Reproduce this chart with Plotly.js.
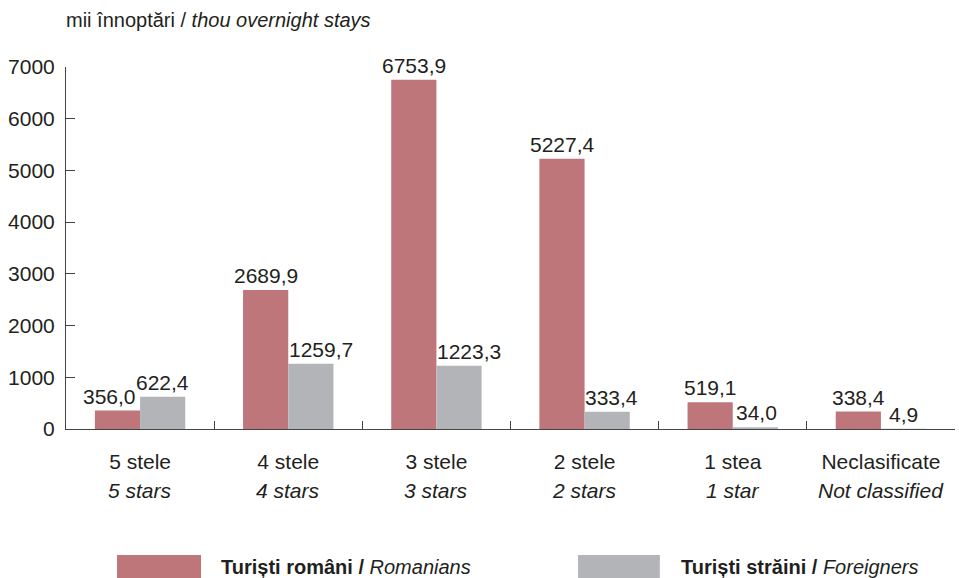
<!DOCTYPE html>
<html>
<head>
<meta charset="utf-8">
<script src="https://cdn.plot.ly/plotly-3.0.1.min.js"></script>
<style>html,body{margin:0;padding:0;background:#fff;}#chart{width:959px;height:578px;}</style>
</head>
<body>
<div id="chart"></div>
<script>
const categoriesRo = ["5 stele", "4 stele", "3 stele", "2 stele", "1 stea", "Neclasificate"];
const categoriesEn = ["5 stars", "4 stars", "3 stars", "2 stars", "1 star", "Not classified"];
const romanians = [356.0, 2689.9, 6753.9, 5227.4, 519.1, 338.4];
const foreigners = [622.4, 1259.7, 1223.3, 333.4, 34.0, 4.9];
const seriesNamesRo = ["Turiști români", "Turiști străini"];
const seriesNamesEn = ["Romanians", "Foreigners"];
const yTicks = [0, 1000, 2000, 3000, 4000, 5000, 6000, 7000];
const titleRo = "mii înnoptări";
const titleEn = "thou overnight stays";

const FONT = "Liberation Sans, Arial, Helvetica, sans-serif";
const TXT = "#231f20";
const colors = ["#be767b", "#b3b4b8"];
// small horizontal pixel nudges of the value labels (styling only)
const labelNudge = [[-8, 0, 0, 0, 0, 0], [0, 10, 10, 4, 1, 0]];
const halfBar = 22.5;

const fmt = v => v.toFixed(1).replace(".", ",");

const series = [romanians, foreigners];
const traces = series.map((vals, k) => ({
  type: "bar",
  x: categoriesRo,
  y: vals,
  name: seriesNamesRo[k],
  marker: {color: colors[k], line: {width: 0}},
  hoverinfo: "skip",
  showlegend: false
}));

const shapes = [];
const annotations = [];
// value labels above bars
series.forEach((vals, k) => {
  vals.forEach((v, i) => {
    annotations.push({xref: "x", yref: "y", x: categoriesRo[i], y: v,
      xshift: (k === 0 ? -halfBar : halfBar) + labelNudge[k][i], yshift: 1,
      xanchor: "center", yanchor: "bottom", showarrow: false, text: fmt(v),
      font: {family: FONT, size: 21, color: TXT}});
  });
});
// English category labels (second line under each category)
categoriesRo.forEach((c, i) => {
  annotations.push({xref: "x", yref: "paper", x: c, y: -0.171, xanchor: "center", yanchor: "middle",
    showarrow: false, text: "<i>" + categoriesEn[i] + "</i>",
    font: {family: FONT, size: 21, color: TXT}});
});
// custom legend with wide swatches
const legendSwatchX = [[0.0574, 0.1519], [0.576, 0.668]];
const legendTextX = [0.172, 0.689];
for (let k = 0; k < 2; k++) {
  shapes.push({type: "rect", xref: "paper", yref: "paper",
    x0: legendSwatchX[k][0], x1: legendSwatchX[k][1], y0: -0.348, y1: -0.412,
    fillcolor: colors[k], line: {width: 0}});
  annotations.push({xref: "paper", yref: "paper", x: legendTextX[k], y: -0.38,
    xanchor: "left", yanchor: "middle", showarrow: false,
    text: "<b>" + seriesNamesRo[k] + " /</b> <i>" + seriesNamesEn[k] + "</i>",
    font: {family: FONT, size: 20, color: TXT}});
}

const layout = {
  width: 959, height: 578,
  margin: {l: 66, r: 4, t: 67, b: 149},
  paper_bgcolor: "#fff", plot_bgcolor: "#fff",
  font: {family: FONT, color: TXT},
  title: {text: titleRo + " / <i>" + titleEn + "</i>", xref: "paper", x: 0, xanchor: "left",
    yref: "container", y: 0.965, yanchor: "middle", font: {family: FONT, size: 20, color: TXT}},
  barmode: "group",
  bargap: 0.39,
  bargroupgap: 0,
  xaxis: {
    type: "category", range: [-0.5, 5.5], tickson: "boundaries",
    ticks: "inside", ticklen: 8, tickcolor: "#444", tickwidth: 1,
    showline: true, linecolor: "#444", linewidth: 1,
    showgrid: false, zeroline: false,
    tickfont: {family: FONT, size: 21, color: TXT},
    ticklabelstandoff: 14
  },
  yaxis: {
    range: [0, 7000], tickvals: yTicks, ticktext: yTicks.map(String),
    ticks: "inside", ticklen: 9, tickcolor: "#444", tickwidth: 1,
    showline: true, linecolor: "#444", linewidth: 1,
    showgrid: false, zeroline: false,
    tickfont: {family: FONT, size: 21, color: TXT},
    ticklabelstandoff: 6
  },
  shapes: shapes,
  annotations: annotations
};

Plotly.newPlot("chart", traces, layout, {staticPlot: true, displayModeBar: false});
</script>
</body>
</html>
